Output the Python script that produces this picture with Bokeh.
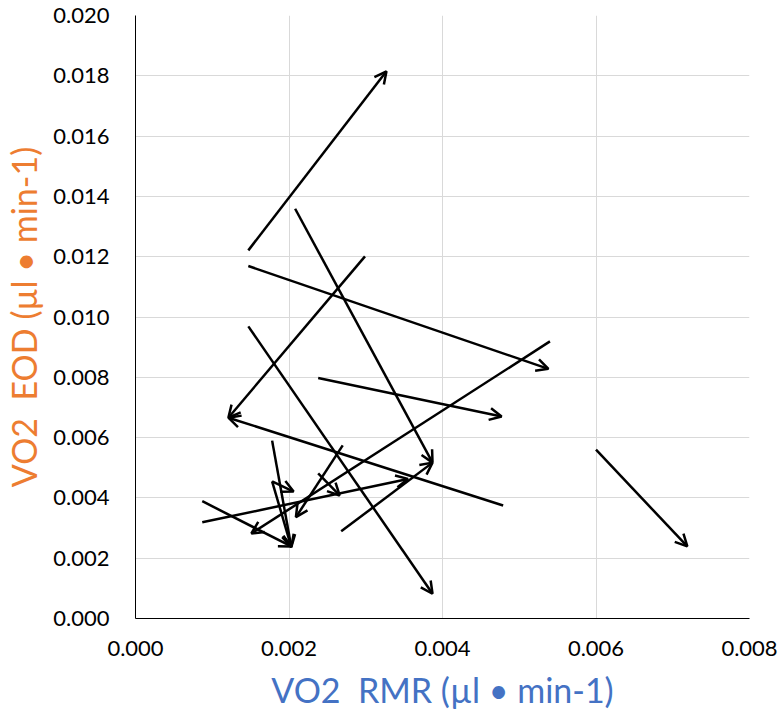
from bokeh.plotting import figure
from bokeh.models import ColumnDataSource, Arrow, OpenHead, FixedTicker, PrintfTickFormatter, Range1d
from bokeh.embed import file_html
from bokeh.resources import INLINE

# arrow tails (RMR, EOD) and heads (RMR, EOD), in µl/min
rmr_start = [0.00147, 0.00147, 0.00208, 0.00299, 0.00147, 0.00238, 0.00540, 0.00479, 0.00268,
             0.00087, 0.00087, 0.00178, 0.00178, 0.00178, 0.00238, 0.00270, 0.00600]
eod_start = [0.01221, 0.01169, 0.01359, 0.01201, 0.00969, 0.00798, 0.00919, 0.00375, 0.00289,
             0.00319, 0.00389, 0.00590, 0.00455, 0.00455, 0.00481, 0.00574, 0.00560]
rmr_end = [0.00327, 0.00538, 0.00387, 0.00121, 0.00387, 0.00477, 0.00151, 0.00121, 0.00387,
           0.00355, 0.00203, 0.00203, 0.00206, 0.00203, 0.00266, 0.00209, 0.00719]
eod_end = [0.01815, 0.00828, 0.00517, 0.00666, 0.00082, 0.00670, 0.00282, 0.00666, 0.00517,
           0.00463, 0.00239, 0.00237, 0.00421, 0.00237, 0.00408, 0.00336, 0.00239]

x_ticks = [0.000, 0.002, 0.004, 0.006, 0.008]
y_ticks = [0.000, 0.002, 0.004, 0.006, 0.008, 0.010, 0.012, 0.014, 0.016, 0.018, 0.020]

FONT = "Lato"

p = figure(width=783, height=717, output_backend="svg", toolbar_location=None,
           x_range=Range1d(0, 0.008), y_range=Range1d(0, 0.020),
           min_border_left=134, min_border_right=34, min_border_top=15, min_border_bottom=99)
p.outline_line_color = None
p.background_fill_color = "white"
p.border_fill_color = "white"

src = ColumnDataSource(dict(x0=rmr_start, y0=eod_start, x1=rmr_end, y1=eod_end))
p.add_layout(Arrow(source=src, x_start="x0", y_start="y0", x_end="x1", y_end="y1",
                   line_color="black", line_width=2.5,
                   end=OpenHead(size=12, line_color="black", line_width=2.5)))

for ax in (p.xaxis[0], p.yaxis[0]):
    ax.axis_line_color = "black"
    ax.axis_line_width = 1
    ax.major_tick_line_color = None
    ax.minor_tick_line_color = None
    ax.major_tick_out = 0
    ax.major_tick_in = 0
    ax.minor_tick_out = 0
    ax.minor_tick_in = 0
    ax.major_label_text_font = FONT
    ax.major_label_text_font_size = "22px"
    ax.major_label_text_color = "black"
    ax.axis_label_text_font = FONT
    ax.axis_label_text_font_size = "34px"
    ax.axis_label_text_font_style = "normal"
    ax.formatter = PrintfTickFormatter(format="%.3f")

p.xaxis.ticker = FixedTicker(ticks=x_ticks)
p.yaxis.ticker = FixedTicker(ticks=y_ticks)
p.xaxis.major_label_standoff = 22
p.yaxis.major_label_standoff = 26
p.xaxis.axis_label = "VO2\u00a0 RMR (µl • min-1)"
p.yaxis.axis_label = "VO2\u00a0 EOD (µl • min-1)"
p.xaxis.axis_label_text_color = "#4472C4"
p.yaxis.axis_label_text_color = "#ED7D31"
p.xaxis.axis_label_standoff = 10
p.yaxis.axis_label_standoff = 6

p.xgrid.ticker = FixedTicker(ticks=x_ticks)
p.ygrid.ticker = FixedTicker(ticks=y_ticks)
p.grid.grid_line_color = "#D9D9D9"
p.grid.grid_line_width = 1

open("out.html", "w").write(file_html(p, INLINE))
